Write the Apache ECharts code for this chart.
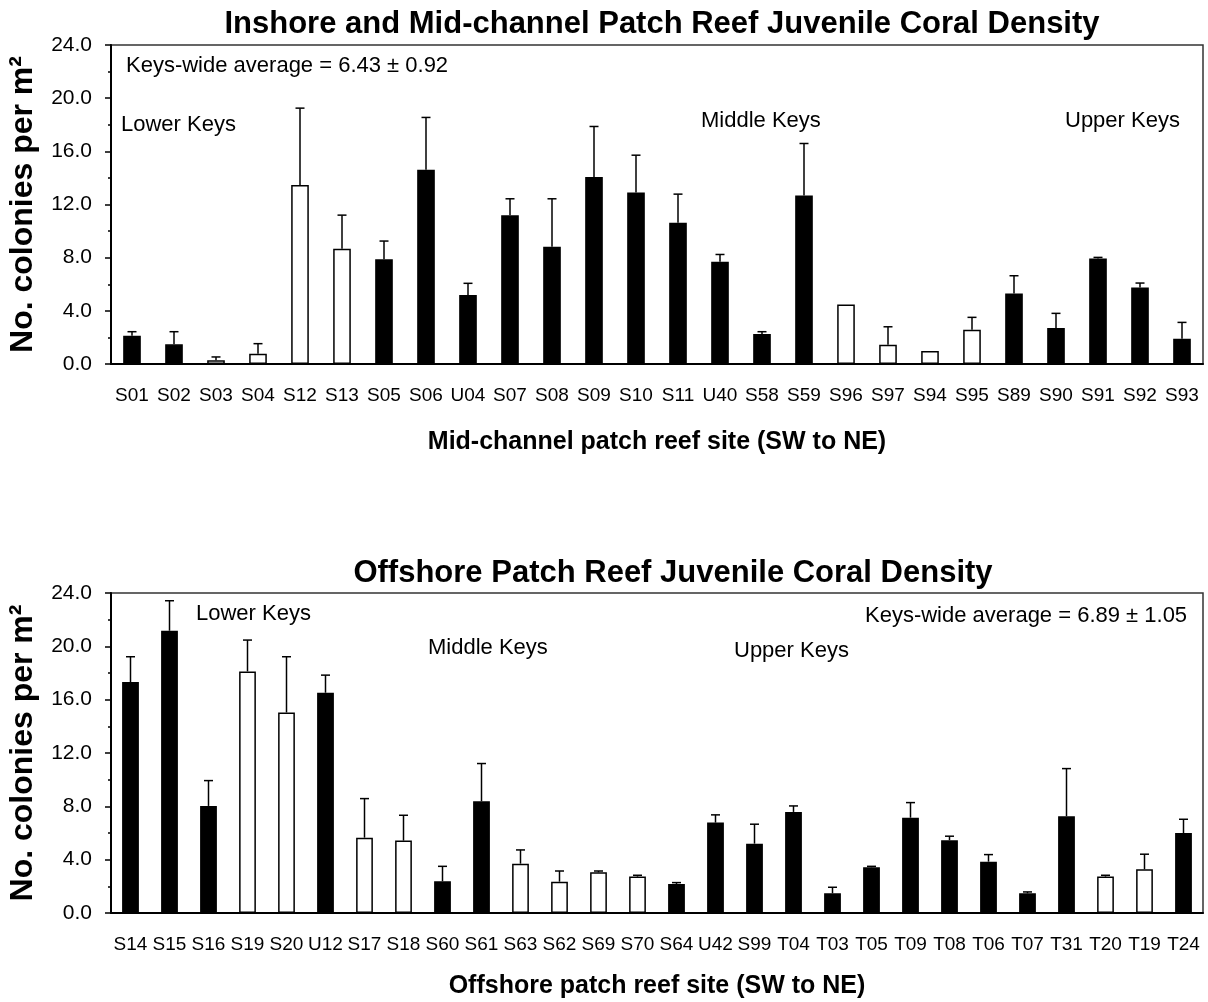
<!DOCTYPE html>
<html>
<head>
<meta charset="utf-8">
<script src="https://cdn.jsdelivr.net/npm/echarts@6/dist/echarts.min.js"></script>
<style>
html,body{margin:0;padding:0;background:#fff;}
#chart{width:1208px;height:1002px;}
</style>
</head>
<body>
<div id="chart"></div>
<script>
// ---------- Data: Inshore / Mid-channel patch reefs ----------
const midSites = ['S01','S02','S03','S04','S12','S13','S05','S06','U04','S07','S08','S09','S10','S11','U40','S58','S59','S96','S97','S94','S95','S89','S90','S91','S92','S93'];
const midMeans = [2.13,1.48,0.28,0.78,13.46,8.67,7.89,14.61,5.19,11.20,8.82,14.06,12.90,10.62,7.69,2.26,12.68,4.48,1.45,0.98,2.58,5.31,2.71,7.94,5.76,1.90];
const midErrors = [0.30,0.95,0.25,0.75,5.79,2.53,1.36,3.94,0.88,1.23,3.61,3.81,2.81,2.16,0.55,0.17,3.91,0,1.35,0,0.93,1.33,1.10,0.08,0.33,1.23];
// 1 = filled (black) bar, 0 = open (white) bar
const midFilled = [1,1,0,0,0,0,1,1,1,1,1,1,1,1,1,1,1,0,0,0,0,1,1,1,1,1];

// ---------- Data: Offshore patch reefs ----------
const offSites = ['S14','S15','S16','S19','S20','U12','S17','S18','S60','S61','S63','S62','S69','S70','S64','U42','S99','T04','T03','T05','T09','T08','T06','T07','T31','T20','T19','T24'];
const offMeans = [17.32,21.17,8.03,18.12,15.04,16.52,5.65,5.43,2.38,8.38,3.70,2.35,3.05,2.73,2.18,6.78,5.20,7.58,1.48,3.43,7.15,5.46,3.85,1.48,7.26,2.73,3.28,6.00];
const offErrors = [1.90,2.25,1.90,2.35,4.18,1.32,2.93,1.90,1.12,2.83,1.03,0.80,0.10,0.10,0.10,0.58,1.46,0.45,0.45,0.07,1.13,0.30,0.53,0.10,3.57,0.10,1.13,1.03];
const offFilled = [1,1,1,0,0,1,0,0,1,1,0,0,0,0,1,1,1,1,1,1,1,1,1,1,1,0,0,1];

// ---------- Text ----------
const titles = ['Inshore and Mid-channel Patch Reef Juvenile Coral Density', 'Offshore Patch Reef Juvenile Coral Density'];
const xNames = ['Mid-channel patch reef site (SW to NE)', 'Offshore patch reef site (SW to NE)'];
const yName = 'No. colonies per m²';
const avgTexts = ['Keys-wide average = 6.43 ± 0.92', 'Keys-wide average = 6.89 ± 1.05'];
const regionNames = ['Lower Keys', 'Middle Keys', 'Upper Keys'];
const yTicks = {min: 0, max: 24, interval: 4};

const FONT = '"Liberation Sans", Arial, sans-serif';

function barData(means, filled) {
  return means.map((v, i) => ({
    value: v,
    itemStyle: {color: filled[i] ? '#000' : '#fff', borderColor: '#000', borderWidth: 1.5}
  }));
}
function errData(means, errs) {
  return means.map((v, i) => [i, v, errs[i]]);
}
function renderErr(params, api) {
  const e = api.value(2);
  if (!e) return null;
  const x = api.value(0), v = api.value(1);
  const b = api.coord([x, v]);
  const t = api.coord([x, v + e]);
  const hw = 4.5;
  const st = {stroke: '#000', lineWidth: 1.5};
  return {
    type: 'group',
    children: [
      {type: 'line', shape: {x1: b[0], y1: b[1], x2: t[0], y2: t[1]}, style: st},
      {type: 'line', shape: {x1: t[0] - hw, y1: t[1], x2: t[0] + hw, y2: t[1]}, style: st}
    ]
  };
}

function xAxisCfg(idx, cats, name, gap) {
  return {
    type: 'category', gridIndex: idx, data: cats,
    axisLine: {lineStyle: {color: '#000', width: 2}},
    axisTick: {show: false},
    axisLabel: {interval: 0, color: '#000', fontSize: 19, fontFamily: FONT, margin: 22},
    name: name, nameLocation: 'middle', nameGap: gap,
    nameTextStyle: {color: '#000', fontSize: 25, fontWeight: 'bold', fontFamily: FONT}
  };
}
function yAxisCfg(idx) {
  return {
    type: 'value', gridIndex: idx, min: yTicks.min, max: yTicks.max, interval: yTicks.interval,
    axisLine: {show: true, lineStyle: {color: '#000', width: 2}},
    axisTick: {show: true, length: 6, lineStyle: {color: '#000', width: 1.5}},
    minorTick: {show: true, splitNumber: 2, length: 3, lineStyle: {color: '#000', width: 1.5}},
    splitLine: {show: false},
    axisLabel: {color: '#000', fontSize: 21, fontFamily: FONT, margin: 19, formatter: v => v.toFixed(1)},
    name: yName, nameLocation: 'middle', nameRotate: 90, nameGap: 72,
    nameTextStyle: {color: '#000', fontSize: 32, fontWeight: 'bold', fontFamily: FONT}
  };
}

function txt(x, y, s, align) {
  return {type: 'text', left: x, top: y, style: {text: s, fill: '#000', font: '22px ' + FONT, textAlign: align || 'left', textVerticalAlign: 'middle'}};
}

const chart = echarts.init(document.getElementById('chart'), null, {renderer: 'canvas'});
chart.setOption({
  animation: false,
  backgroundColor: '#fff',
  title: [
    {text: titles[0], left: 657, top: 4, textAlign: 'center', textStyle: {fontSize: 31, fontWeight: 'bold', color: '#000', fontFamily: FONT}},
    {text: titles[1], left: 668, top: 553, textAlign: 'center', textStyle: {fontSize: 31, fontWeight: 'bold', color: '#000', fontFamily: FONT}}
  ],
  grid: [
    {left: 111, top: 45, width: 1092, height: 319, show: true, borderColor: '#333', borderWidth: 1.5, backgroundColor: 'transparent', containLabel: false, outerBoundsMode: 'none'},
    {left: 111, top: 593, width: 1092, height: 320, show: true, borderColor: '#333', borderWidth: 1.5, backgroundColor: 'transparent', containLabel: false, outerBoundsMode: 'none'}
  ],
  xAxis: [xAxisCfg(0, midSites, xNames[0], 66), xAxisCfg(1, offSites, xNames[1], 61)],
  yAxis: [yAxisCfg(0), yAxisCfg(1)],
  series: [
    {type: 'bar', xAxisIndex: 0, yAxisIndex: 0, barWidth: '42%', data: barData(midMeans, midFilled)},
    {type: 'custom', xAxisIndex: 0, yAxisIndex: 0, renderItem: renderErr, data: errData(midMeans, midErrors), encode: {x: 0, y: 1}, z: 3},
    {type: 'bar', xAxisIndex: 1, yAxisIndex: 1, barWidth: '43%', data: barData(offMeans, offFilled)},
    {type: 'custom', xAxisIndex: 1, yAxisIndex: 1, renderItem: renderErr, data: errData(offMeans, offErrors), encode: {x: 0, y: 1}, z: 3}
  ],
  graphic: [
    {type: 'group', children: [
      txt(126, 55, avgTexts[0]),
      txt(121, 114, regionNames[0]),
      txt(701, 110, regionNames[1]),
      txt(1065, 110, regionNames[2]),
      txt(196, 603, regionNames[0]),
      txt(428, 637, regionNames[1]),
      txt(734, 640, regionNames[2]),
      txt(865, 605, avgTexts[1])
    ]}
  ]
});
</script>
</body>
</html>
